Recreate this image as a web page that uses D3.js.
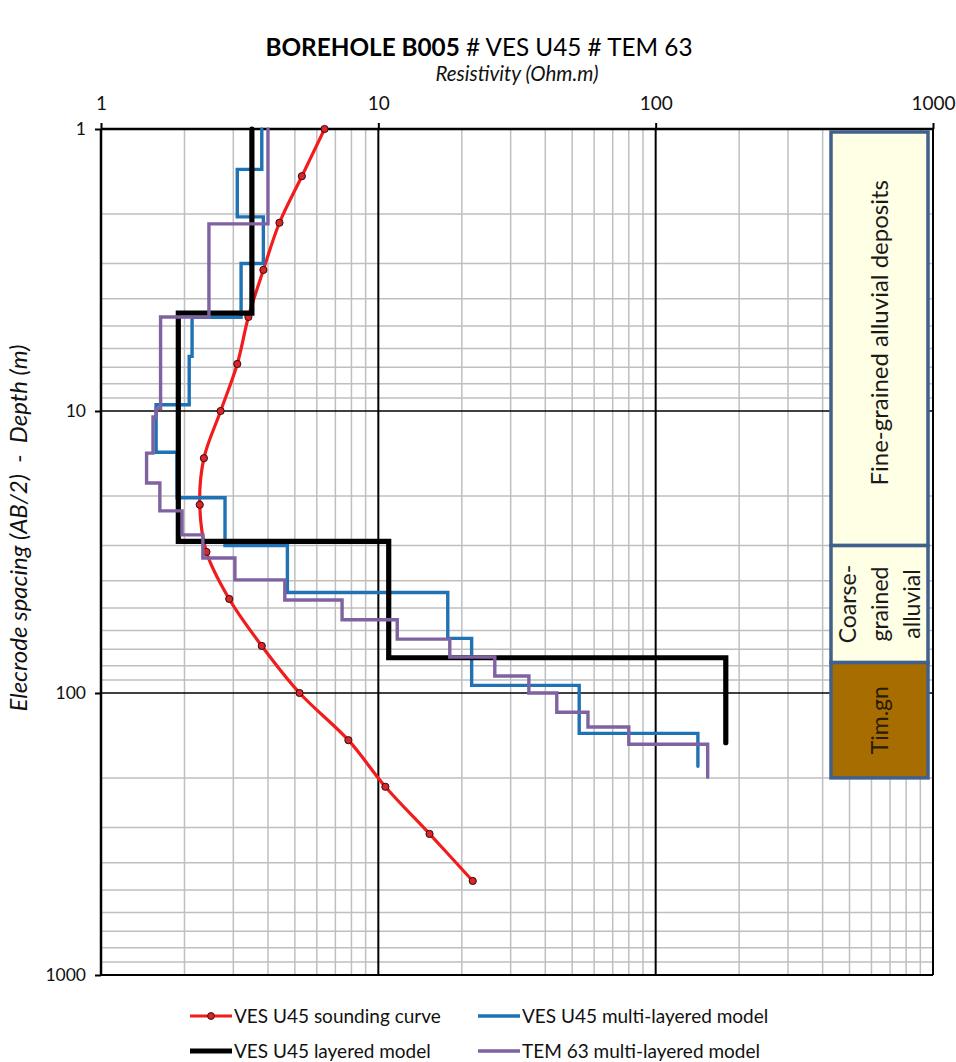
<!DOCTYPE html>
<html>
<head>
<meta charset="utf-8">
<script src="https://cdn.jsdelivr.net/npm/d3@7"></script>
<style>
  html, body { margin: 0; padding: 0; background: #fff; }
  svg { display: block; }
  text { font-family: Lato, "Open Sans", sans-serif; }
</style>
</head>
<body>
<svg id="chart" width="956" height="1062"></svg>
<script>
// Apparent resistivity sounding curve (AB/2 in m, rho in Ohm.m)
const abHalf      = [1, 1.47, 2.15, 3.16, 4.64, 6.81, 10, 14.7, 21.5, 31.6, 46.4, 68.1, 100, 147, 215, 316, 464];
const vesApparent = [6.4, 5.3, 4.4, 3.85, 3.4, 3.1, 2.7, 2.35, 2.27, 2.4, 2.9, 3.8, 5.2, 7.8, 10.6, 15.3, 21.9];

// VES U45 layered model: resistivity per layer, layer boundaries (m)
const layeredRho   = [3.5, 1.9, 10.9, 179];
const layeredDepth = [1, 4.5, 29, 75, 150];

// VES U45 multi-layered model
const vesMultiRho   = [3.8, 3.1, 3.85, 3.2, 2.13, 2.08, 1.58, 1.88, 2.8, 4.7, 17.8, 21.7, 53, 142];
const vesMultiDepth = [1, 1.39, 2.05, 3.0, 4.65, 6.4, 9.5, 14, 20.3, 30, 44, 64, 94, 139, 182];

// TEM 63 multi-layered model
const temRho   = [4.0, 2.45, 1.64, 1.58, 1.54, 1.46, 1.63, 1.96, 2.33, 3.04, 4.6, 7.4, 11.7, 18.1, 26.3, 34.9, 44, 57, 80, 154];
const temDepth = [1, 2.17, 4.64, 9.8, 10.5, 14.1, 18, 22.6, 27.5, 33.2, 39.7, 46.8, 55, 64.4, 74.5, 87, 100, 117, 132, 152, 199];

// Borehole lithology column
const unitLabels = [["Fine-grained alluvial deposits"], ["Coarse-", "grained", "alluvial"], ["Tim.gn"]];
const unitTop    = [1, 30, 78];
const unitBottom = [30, 78, 200];

// Axis tick labels
const xTickLabels = [1, 10, 100, 1000];
const yTickLabels = [1, 10, 100, 1000];

const svg = d3.select("#chart");

const pLeft = 101, pRight = 933, pTop = 129, pBottom = 975;
const x = d3.scaleLog().domain([1, 1000]).range([pLeft, pRight]);
const y = d3.scaleLog().domain([1, 1000]).range([pTop, pBottom]);

// minor grid
const minors = [];
for (let k = 0; k < 3; k++) for (let m = 2; m <= 9; m++) minors.push(m * Math.pow(10, k));

const grid = svg.append("g");
grid.selectAll(".vmin").data(minors).join("line")
  .attr("x1", d => x(d)).attr("x2", d => x(d)).attr("y1", pTop).attr("y2", pBottom)
  .attr("stroke", "#bfbfbf").attr("stroke-width", 1.5);
grid.selectAll(".hmin").data(minors).join("line")
  .attr("y1", d => y(d)).attr("y2", d => y(d)).attr("x1", pLeft).attr("x2", pRight)
  .attr("stroke", "#bfbfbf").attr("stroke-width", 1.5);

// major grid (decades)
grid.selectAll(".vmaj").data([10, 100]).join("line")
  .attr("x1", d => x(d)).attr("x2", d => x(d)).attr("y1", pTop).attr("y2", pBottom)
  .attr("stroke", "#000").attr("stroke-width", 2);
grid.selectAll(".hmaj").data([10, 100]).join("line")
  .attr("y1", d => y(d)).attr("y2", d => y(d)).attr("x1", pLeft).attr("x2", pRight)
  .attr("stroke", "#000").attr("stroke-width", 1.6);

// frame
grid.append("line").attr("x1", pLeft).attr("x2", pRight).attr("y1", pTop).attr("y2", pTop)
  .attr("stroke", "#000").attr("stroke-width", 2.5);
grid.append("line").attr("x1", pLeft).attr("x2", pRight).attr("y1", pBottom).attr("y2", pBottom)
  .attr("stroke", "#000").attr("stroke-width", 2);
grid.append("line").attr("x1", pLeft).attr("x2", pLeft).attr("y1", pTop).attr("y2", pBottom)
  .attr("stroke", "#000").attr("stroke-width", 2.5);
grid.append("line").attr("x1", pRight).attr("x2", pRight).attr("y1", pTop).attr("y2", pBottom)
  .attr("stroke", "#000").attr("stroke-width", 2);

// axes
const xAxis = d3.axisTop(x).tickValues(xTickLabels).tickFormat(d3.format("d")).tickSize(6).tickPadding(13);
const gx = svg.append("g").attr("transform", `translate(0,${pTop})`).call(xAxis);
gx.select(".domain").remove();
gx.selectAll(".tick line").attr("stroke", "#000").attr("stroke-width", 2);
gx.selectAll(".tick text").attr("font-family", "Lato, sans-serif").attr("font-size", 19).attr("fill", "#111");

const yAxis = d3.axisLeft(y).tickValues(yTickLabels).tickFormat(d3.format("d")).tickSize(6).tickPadding(9);
const gy = svg.append("g").attr("transform", `translate(${pLeft},0)`).call(yAxis);
gy.select(".domain").remove();
gy.selectAll(".tick line").attr("stroke", "#000").attr("stroke-width", 2);
gy.selectAll(".tick text").attr("font-family", "DejaVu Sans, sans-serif").attr("font-size", 17.5).attr("fill", "#111");

// titles
const title = svg.append("text").attr("x", 479).attr("y", 56).attr("text-anchor", "middle")
  .attr("font-size", 24.3).attr("fill", "#000");
title.append("tspan").attr("font-weight", "bold").text("BOREHOLE B005");
title.append("tspan").text(" # VES U45 # TEM 63");

svg.append("text").attr("x", 517).attr("y", 81).attr("text-anchor", "middle")
  .attr("font-size", 20.5).attr("font-style", "italic").attr("fill", "#111").text("Resistivity (Ohm.m)");

svg.append("text").attr("transform", `translate(27,528) rotate(-90)`)
  .attr("text-anchor", "middle").attr("font-size", 24).attr("font-style", "italic").attr("fill", "#111")
  .attr("xml:space", "preserve")
  .text("Elecrode spacing (AB/2)  -  Depth (m)");

// lithology column
const colX0 = 831, colX1 = 928;
const col = svg.append("g");
const unitFill = ["#ffffe6", "#ffffe6", "#a86d00"];
const unitText = ["#1a1a1a", "#1a1a1a", "#2a1c00"];
const unitFont = [24, 23, 23];
unitTop.forEach((t, i) => {
  const y0 = Math.max(y(t), pTop + 3), y1 = y(unitBottom[i]);
  col.append("rect").attr("x", colX0).attr("y", y0).attr("width", colX1 - colX0).attr("height", y1 - y0)
    .attr("fill", unitFill[i]).attr("stroke", "#41618c").attr("stroke-width", 3.5);
  const cx = (colX0 + colX1) / 2, cy = (y0 + y1) / 2;
  const lines = unitLabels[i];
  const lh = 32;
  lines.forEach((s, j) => {
    const off = (j - (lines.length - 1) / 2) * lh;
    col.append("text").attr("transform", `translate(${cx + off + 8},${cy - (i === 0 ? 6 : 0)}) rotate(-90)`)
      .attr("text-anchor", "middle").attr("font-size", unitFont[i]).attr("fill", unitText[i]).text(s);
  });
});

// series
const marks = svg.append("g");
const lineGen = d3.line().x(d => x(d[0])).y(d => y(d[1]));
function steps(rho, depth) {
  const pts = [];
  rho.forEach((r, i) => { pts.push([r, depth[i]]); pts.push([r, depth[i + 1]]); });
  return pts;
}
const sounding = abHalf.map((d, i) => [vesApparent[i], d]);

marks.append("path").attr("d", d3.line().x(d => x(d[0])).y(d => y(d[1])).curve(d3.curveCatmullRom.alpha(0.5))(sounding))
  .attr("fill", "none").attr("stroke", "#f21c1c").attr("stroke-width", 3.2);
marks.selectAll(".pt").data(sounding).join("circle")
  .attr("cx", d => x(d[0])).attr("cy", d => y(d[1])).attr("r", 3.6)
  .attr("fill", "#d9262b").attr("stroke", "#3a0a0a").attr("stroke-width", 1);

marks.append("path").attr("d", lineGen(steps(vesMultiRho, vesMultiDepth)))
  .attr("fill", "none").attr("stroke", "#1f72b4").attr("stroke-width", 3.4).attr("stroke-linecap", "round");
marks.append("path").attr("d", lineGen(steps(layeredRho, layeredDepth)))
  .attr("fill", "none").attr("stroke", "#000").attr("stroke-width", 5.2).attr("stroke-linecap", "round");
marks.append("path").attr("d", lineGen(steps(temRho, temDepth)))
  .attr("fill", "none").attr("stroke", "#7f62a1").attr("stroke-width", 3.4).attr("stroke-linecap", "round");

// legend
const legendItems = [
  { label: "VES U45 sounding curve", color: "#f21c1c", w: 3.2, marker: true, lx: 190, ly: 1016 },
  { label: "VES U45 multi-layered model", color: "#1f72b4", w: 3.4, marker: false, lx: 478, ly: 1016 },
  { label: "VES U45 layered model", color: "#000", w: 5.2, marker: false, lx: 190, ly: 1051 },
  { label: "TEM 63 multi-layered model", color: "#7f62a1", w: 3.4, marker: false, lx: 478, ly: 1051 }
];
const lg = svg.append("g");
legendItems.forEach(it => {
  lg.append("line").attr("x1", it.lx).attr("x2", it.lx + 42).attr("y1", it.ly).attr("y2", it.ly)
    .attr("stroke", it.color).attr("stroke-width", it.w);
  if (it.marker) lg.append("circle").attr("cx", it.lx + 21).attr("cy", it.ly).attr("r", 3.4)
    .attr("fill", "#d9262b").attr("stroke", "#3a0a0a").attr("stroke-width", 1);
  lg.append("text").attr("x", it.lx + 44).attr("y", it.ly + 6.5).attr("font-size", 19).attr("fill", "#111").text(it.label);
});
</script>
</body>
</html>
